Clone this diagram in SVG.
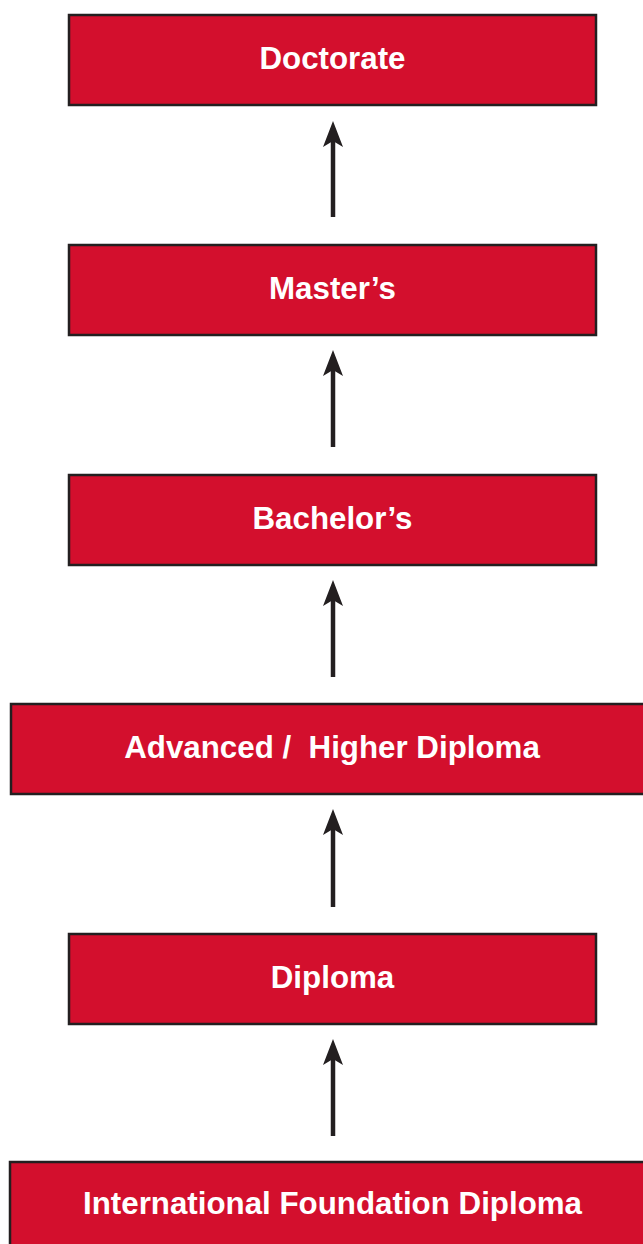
<svg xmlns="http://www.w3.org/2000/svg" width="643" height="1244" viewBox="0 0 643 1244">
<style>
.box{fill:#d30f2d;stroke:#231f20;stroke-width:2.5}
.lbl{font-family:"Liberation Sans",Arial,sans-serif;font-weight:bold;font-size:31.3px;fill:#ffffff;text-anchor:middle;white-space:pre}
.conn{stroke:#231f20;stroke-width:4.5;fill:none}
</style>
<defs>
<marker id="ah" markerUnits="userSpaceOnUse" markerWidth="28" markerHeight="24" viewBox="0 0 28 24" refX="6" refY="12" orient="auto">
<path d="M26 12 L0 2 L6 12 L0 22 Z" fill="#231f20"/>
</marker>
</defs>
<rect width="643" height="1244" fill="#ffffff"/>
<g id="connectors">
<line class="conn" x1="333" y1="217" x2="333" y2="141" marker-end="url(#ah)"/>
<line class="conn" x1="333" y1="447" x2="333" y2="370" marker-end="url(#ah)"/>
<line class="conn" x1="333" y1="677" x2="333" y2="600" marker-end="url(#ah)"/>
<line class="conn" x1="333" y1="907" x2="333" y2="829" marker-end="url(#ah)"/>
<line class="conn" x1="333" y1="1136" x2="333" y2="1059" marker-end="url(#ah)"/>
</g>
<g id="doctorate">
<rect class="box" x="69" y="15" width="527" height="90"/>
<text class="lbl" x="332.5" y="69">Doctorate</text>
</g>
<g id="masters">
<rect class="box" x="69" y="245" width="527" height="90"/>
<text class="lbl" x="332.5" y="299">Master’s</text>
</g>
<g id="bachelors">
<rect class="box" x="69" y="475" width="527" height="90"/>
<text class="lbl" x="332.5" y="529">Bachelor’s</text>
</g>
<g id="advanced">
<rect class="box" x="11" y="704" width="640" height="90"/>
<text class="lbl" x="332" y="758">Advanced /  Higher Diploma</text>
</g>
<g id="diploma">
<rect class="box" x="69" y="934" width="527" height="90"/>
<text class="lbl" x="332.5" y="988">Diploma</text>
</g>
<g id="ifd">
<rect class="box" x="10" y="1162" width="640" height="100"/>
<text class="lbl" x="332.5" y="1214">International Foundation Diploma</text>
</g>
</svg>
